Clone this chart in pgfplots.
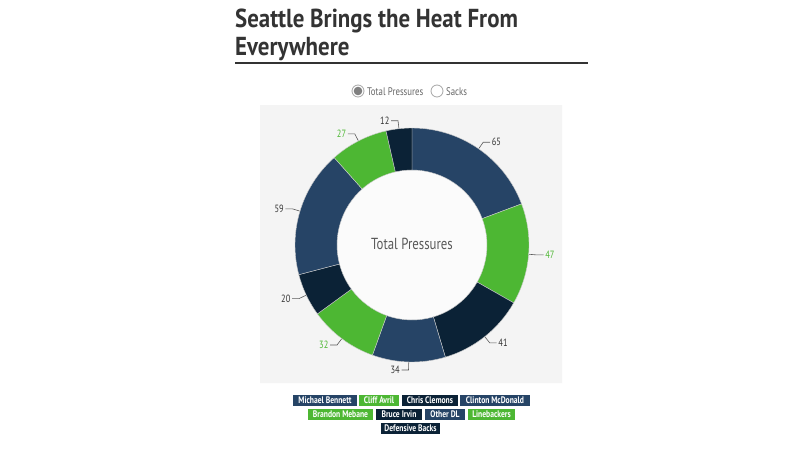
\documentclass[border=0pt]{standalone}
\usepackage{pgfplots}
\pgfplotsset{compat=1.18}
\usepackage{pgfplotstable}
\usepackage{fontspec}
\setmainfont{PT Sans}
\newfontfamily\narrow{PT Sans}[FakeStretch=0.8]
\newfontfamily\titlefont{PT Sans}[FakeStretch=0.88]

\definecolor{seanavy}{HTML}{264466}
\definecolor{seagreen}{HTML}{4DB733}
\definecolor{seadark}{HTML}{0B2236}
\definecolor{txt}{HTML}{333333}
\definecolor{bggray}{HTML}{F4F4F4}
\definecolor{holegray}{HTML}{FBFBFB}

% total pressures, clockwise from 12 o'clock
\pgfplotstableread[col sep=comma]{
player,value,color,labelcolor
Michael Bennett,65,seanavy,txt
Cliff Avril,47,seagreen,seagreen
Chris Clemons,41,seadark,txt
Clinton McDonald,34,seanavy,txt
Brandon Mebane,32,seagreen,seagreen
Bruce Irvin,20,seadark,txt
Other DL,59,seanavy,txt
Linebackers,27,seagreen,seagreen
Defensive Backs,12,seadark,txt
}\pressures

\begin{document}
\begin{tikzpicture}
\begin{axis}[
  x=1pt, y=1pt,
  xmin=0, xmax=800, ymin=0, ymax=450,
  y dir=reverse,
  hide axis, clip=false,
]
\addplot[draw=none, fill=white] coordinates {(0,0) (800,0) (800,450) (0,450) (0,0)};
\addplot[draw=none, fill=bggray] coordinates {(260,105) (562,105) (562,383) (260,383) (260,105)};

% title
\node[anchor=base west, inner sep=0pt, text=txt, font=\titlefont\bfseries\fontsize{26}{30}\selectfont]
  at (axis cs:235,27) {Seattle Brings the Heat From};
\node[anchor=base west, inner sep=0pt, text=txt, font=\titlefont\bfseries\fontsize{26}{30}\selectfont]
  at (axis cs:235,55) {Everywhere};
\draw[txt, line width=1.5pt] (axis cs:235,63) -- (axis cs:588,63);

% radio buttons
\draw[fill=white, draw=black!35, line width=0.8pt] (axis cs:358,91) circle[radius=6pt];
\fill[black!50] (axis cs:358,91) circle[radius=4.3pt];
\draw[fill=white, draw=black!35, line width=0.8pt] (axis cs:437,91) circle[radius=6pt];
\node[anchor=base west, inner sep=0pt, text=black!60, font=\narrow\fontsize{11}{13}\selectfont]
  at (axis cs:367,95) {Total Pressures};
\node[anchor=base west, inner sep=0pt, text=black!60, font=\narrow\fontsize{11}{13}\selectfont]
  at (axis cs:446,95) {Sacks};

% donut
\pgfplotsextra{
  \fill[holegray] (axis cs:412,245) circle[radius=75pt];
  \pgfplotstablegetrowsof{\pressures}\pgfmathtruncatemacro\nrows{\pgfplotsretval-1}
  \gdef\total{0}
  \foreach \i in {0,...,\nrows}{
    \pgfplotstablegetelem{\i}{value}\of\pressures
    \pgfmathsetmacro\t{\total+\pgfplotsretval}\xdef\total{\t}
  }
  \gdef\cum{0}
  \foreach \i in {0,...,\nrows}{
    \pgfplotstablegetelem{\i}{value}\of\pressures \let\val\pgfplotsretval
    \pgfplotstablegetelem{\i}{color}\of\pressures \let\col\pgfplotsretval
    \pgfplotstablegetelem{\i}{labelcolor}\of\pressures \let\lcol\pgfplotsretval
    \pgfmathsetmacro\aone{90-\cum/\total*360}
    \pgfmathsetmacro\atwo{90-(\cum+\val)/\total*360}
    \pgfmathsetmacro\amid{(\aone+\atwo)/2}
    \pgfmathsetmacro\side{cos(\amid)>0?1:-1}
    \begin{scope}[shift={(axis cs:412,245)}]
      \fill[\col, draw=white!80!black, line width=0.4pt]
        (\aone:117pt) arc[start angle=\aone, end angle=\atwo, radius=117pt]
        -- (\atwo:75pt) arc[start angle=\atwo, end angle=\aone, radius=75pt] -- cycle;
      \draw[black!65, line width=0.6pt]
        (\amid:117.5pt) -- (\amid:125pt) -- ++(\side*7pt,0) coordinate (lab);
      \ifdim\side pt>0pt
        \node[anchor=west, inner sep=1.5pt, text=\lcol, font=\narrow\fontsize{10.5}{12}\selectfont] at (lab) {\val};
      \else
        \node[anchor=east, inner sep=1.5pt, text=\lcol, font=\narrow\fontsize{10.5}{12}\selectfont] at (lab) {\val};
      \fi
    \end{scope}
    \pgfmathsetmacro\newcum{\cum+\val}\xdef\cum{\newcum}
  }
}
\node[text=black!65, font=\narrow\fontsize{16}{18}\selectfont] at (axis cs:412,244) {Total Pressures};

% legend
\tikzset{leg/.style={minimum height=11pt, inner sep=0pt, text=white,
  font=\narrow\bfseries\fontsize{9.5}{10}\selectfont}}
\node[leg, fill=seanavy, minimum width=64pt] at (axis cs:325,400.5) {Michael Bennett};
\node[leg, fill=seagreen, minimum width=40pt] at (axis cs:379,400.5) {Cliff Avril};
\node[leg, fill=seadark, minimum width=56pt] at (axis cs:430,400.5) {Chris Clemons};
\node[leg, fill=seanavy, minimum width=70pt] at (axis cs:495,400.5) {Clinton McDonald};
\node[leg, fill=seagreen, minimum width=65pt] at (axis cs:340.5,414) {Brandon Mebane};
\node[leg, fill=seadark, minimum width=46pt] at (axis cs:399,414) {Bruce Irvin};
\node[leg, fill=seanavy, minimum width=40pt] at (axis cs:445,414) {Other DL};
\node[leg, fill=seagreen, minimum width=47pt] at (axis cs:491.5,414) {Linebackers};
\node[leg, fill=seadark, minimum width=59pt] at (axis cs:410.5,428) {Defensive Backs};
\end{axis}
\end{tikzpicture}
\end{document}
